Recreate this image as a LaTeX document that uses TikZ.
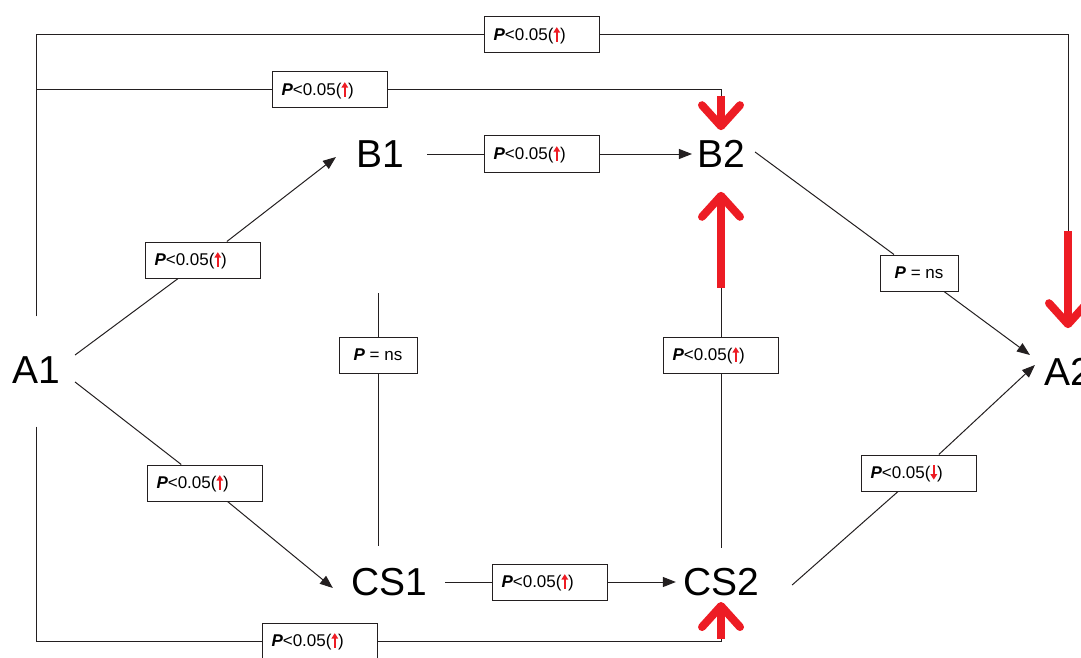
\documentclass[tikz,border=0pt]{standalone}
\usepackage{fontspec}
\setmainfont{Liberation Sans}
\usetikzlibrary{arrows.meta,calc}
\definecolor{rd}{RGB}{237,28,36}
\definecolor{ln}{RGB}{35,31,32}
\newcommand{\upa}{\tikz[x=1pt,y=1pt,baseline=0pt]{\path (-3,0) (3,0);\draw[rd,line width=1.5pt,-{Triangle[length=5.5pt,width=6.5pt]}] (0,-1.5) -- (0,13);}}
\newcommand{\dna}{\tikz[x=1pt,y=1pt,baseline=0pt]{\path (-3,0) (3,0);\draw[rd,line width=1.5pt,-{Triangle[length=5.5pt,width=6.5pt]}] (0,13) -- (0,-1.5);}}
\newcommand{\pl}{\textbf{\textit{P}}<0.05}
\begin{document}
\begin{tikzpicture}[x=1pt,y=-1pt,
  big/.style={font=\fontsize{39}{46}\selectfont, inner sep=0pt},
  lab/.style={draw=ln, fill=white, line width=1pt, font=\fontsize{17}{20}\selectfont, minimum height=36pt, text width=97pt, inner xsep=9pt, align=left},
  nslab/.style={draw=ln, fill=white, line width=1pt, font=\fontsize{17}{20}\selectfont, minimum height=36pt, minimum width=78pt, inner xsep=4pt},
  conn/.style={draw=ln, line width=1pt},
  tip/.style={-{Triangle[length=13pt,width=10pt]}},
  bigred/.style={draw=rd, line width=8pt, -{Straight Barb[round,length=21pt,width=38pt]}}
]
\useasboundingbox (0,0) rectangle (1081,658);

% main nodes
\node[big] (A1) at (36,370) {A1};
\node[big] (B1) at (380,154) {B1};
\node[big] (B2) at (721,154) {B2};
\node[big] (CS1) at (389,582) {CS1};
\node[big] (CS2) at (721,582) {CS2};
\node[big] (A2) at (1068,372) {A2};

% label boxes
\node[lab] (L1) at (542,35) {\pl(\upa)};
\node[lab] (L2) at (330,90) {\pl(\upa)};
\node[lab] (L3) at (542,154) {\pl(\upa)};
\node[lab] (L4) at (203,260) {\pl(\upa)};
\node[lab] (L5) at (205,483) {\pl(\upa)};
\node[nslab] (L6) at (378,355) {\textbf{\textit{P}} = ns};
\node[lab] (L7) at (320,641) {\pl(\upa)};
\node[lab] (L8) at (550,582) {\pl(\upa)};
\node[lab] (L9) at (721,355) {\pl(\upa)};
\node[nslab] (L10) at (919,273) {\textbf{\textit{P}} = ns};
\node[lab] (L11) at (919,473) {\pl(\dna)};

% outer connectors
\draw[conn] ([yshift=40pt]A1.north) |- (L1) -| ([yshift=127pt]A2.north);
\draw[bigred] ([yshift=127pt]A2.north) -- ([yshift=30pt]A2.north);

\coordinate (j2) at (A1.north |- L2);
\draw[conn] (j2) -- (L2) -| ([yshift=44pt]B2.north);
\draw[bigred] ([yshift=44pt]B2.north) -- ([yshift=10pt]B2.north);

\draw[conn] ([yshift=-43pt]A1.south) |- (L7) -| ([yshift=-43pt]CS2.south);
\draw[bigred] ([yshift=-43pt]CS2.south) -- ([yshift=-6pt]CS2.south);

% inner connectors
\draw[conn,tip] ([xshift=23pt]B1.east) -- (L3) -- ([xshift=-5pt]B2.west);
\draw[conn,tip] ([xshift=15pt,yshift=15pt]A1.east) -- (L4) -- ([xshift=-20pt,yshift=-3pt]B1.west);
\draw[conn,tip] ([xshift=15pt,yshift=-12pt]A1.east) -- (L5) -- ([xshift=-18pt,yshift=-6pt]CS1.west);
\draw[conn] ([xshift=-11pt,yshift=22pt]CS1.north) -- (L6) -- ([xshift=-11pt,yshift=275pt]CS1.north);
\draw[conn,tip] ([xshift=18pt]CS1.east) -- (L8) -- ([xshift=-7pt]CS2.west);
\draw[conn] ([yshift=20pt]CS2.north) -- (L9) -- ([yshift=-120pt]B2.south);
\draw[bigred] ([yshift=-120pt]B2.south) -- ([yshift=-24pt]B2.south);
\draw[conn,tip] ([xshift=10pt,yshift=2pt]B2.east) -- (L10) -- ([xshift=-14pt,yshift=17pt]A2.west);
\draw[conn,tip] ([xshift=33pt,yshift=-3pt]CS2.east) -- (L11) -- ([xshift=-9pt,yshift=7pt]A2.west);
\end{tikzpicture}
\end{document}
